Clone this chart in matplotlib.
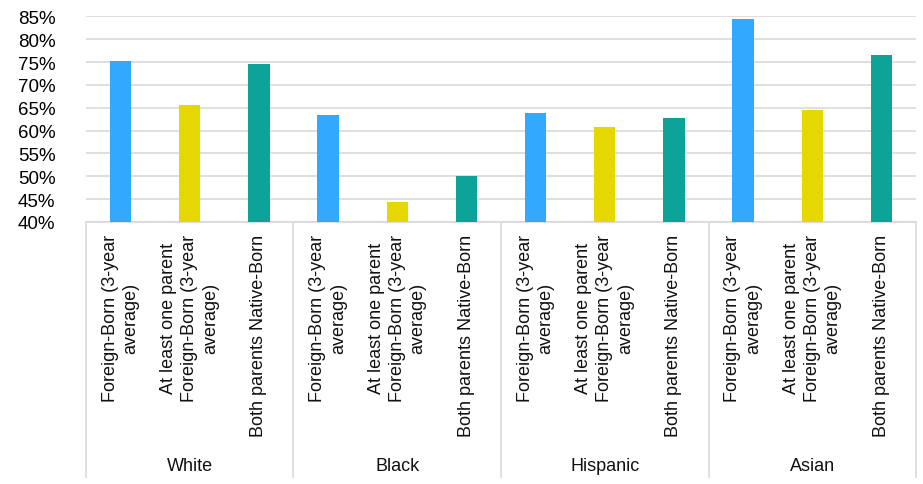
import matplotlib
matplotlib.use("Agg")
import matplotlib.pyplot as plt
from matplotlib.ticker import FuncFormatter
from matplotlib.transforms import blended_transform_factory

groups = ["White", "Black", "Hispanic", "Asian"]
categories = ["Foreign-Born (3-year\naverage)",
              "At least one parent\nForeign-Born (3-year\naverage)",
              "Both parents Native-Born"]
values = {
    "White":    [0.752, 0.657, 0.746],
    "Black":    [0.635, 0.443, 0.500],
    "Hispanic": [0.638, 0.608, 0.627],
    "Asian":    [0.844, 0.645, 0.766],
}
colors = ["#33A8FF", "#E4D800", "#0DA399"]
yticks = [0.40, 0.45, 0.50, 0.55, 0.60, 0.65, 0.70, 0.75, 0.80, 0.85]

plt.rcParams['font.family'] = ['Liberation Sans', 'DejaVu Sans']

fig = plt.figure(figsize=(9.23, 4.85), dpi=100)
W, H = 923, 485
left, right, top, bottom = 86, 916, 17.3, 223
ax = fig.add_axes([left / W, 1 - bottom / H, (right - left) / W, (bottom - top) / H])

xs, hs, cs, labels = [], [], [], []
i = 0
for g in groups:
    for j, v in enumerate(values[g]):
        xs.append(i)
        hs.append(v - 0.40)
        cs.append(colors[j])
        labels.append(categories[j])
        i += 1
ax.bar(xs, hs, bottom=0.40, width=0.31, color=cs, zorder=3)

ax.set_xlim(-0.5, len(xs) - 0.5)
ax.set_ylim(0.40, 0.85)
ax.set_yticks(yticks)
ax.yaxis.set_major_formatter(FuncFormatter(lambda v, p: f"{round(v*100)}%"))
ax.tick_params(axis='y', length=0, pad=22, labelsize=13.5)
ax.set_xticks([])
ax.grid(axis='y', color='#d9d9d9', linewidth=1.2, zorder=0)
for s in ['top', 'right', 'left']:
    ax.spines[s].set_visible(False)
ax.spines['bottom'].set_color('#d9d9d9')
ax.spines['bottom'].set_linewidth(1.2)

trans = blended_transform_factory(ax.transData, ax.transAxes)
ph = bottom - top
# category labels
for x, lab in zip(xs, labels):
    ax.text(x, -12 / ph, lab, transform=trans, rotation=90, ha='center', va='top',
            multialignment='center', fontsize=13, linespacing=1.3, color='#111111')
# group separators and labels
ybot = -(478 - bottom) / ph
for k in range(len(groups) + 1):
    xsep = -0.5 + 3 * k
    ax.plot([xsep, xsep], [0, ybot], transform=trans, color='#d9d9d9',
            linewidth=1.2, clip_on=False)
for k, g in enumerate(groups):
    ax.text(1 + 3 * k, -(467 - bottom) / ph, g, transform=trans, ha='center',
            va='center', fontsize=13, color='#111111')

fig.savefig("out.png", dpi=100)
